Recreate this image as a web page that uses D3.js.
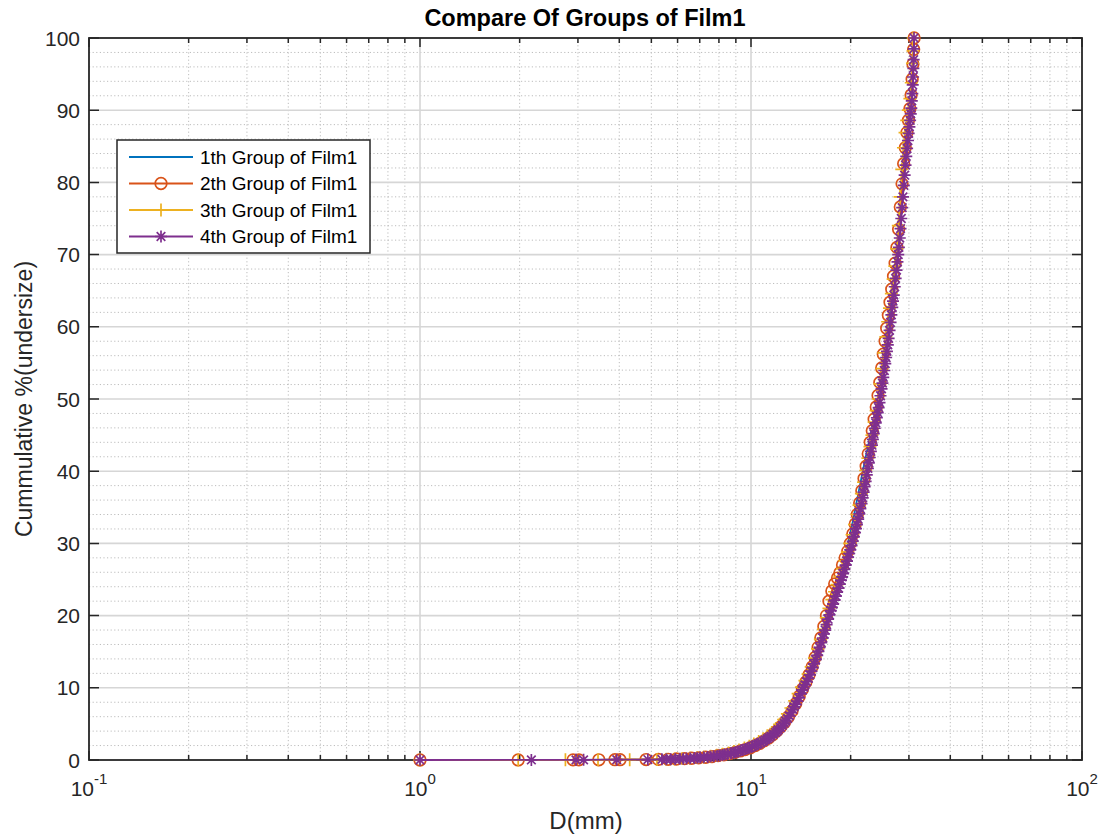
<!DOCTYPE html>
<html>
<head>
<meta charset="utf-8">
<script src="https://cdn.jsdelivr.net/npm/d3@7"></script>
<style>
  body { margin: 0; background: #fff; }
  svg { display: block; font-family: "Liberation Sans", Arial, sans-serif; }
</style>
</head>
<body>
<svg id="chart" width="1102" height="834"></svg>
<script>
// cumulative % (undersize) vs D(mm)
const d1 = [1.0, 2.05, 2.9, 3.9, 4.6, 5.3, 5.9, 6.5, 7.1, 7.7, 8.3, 8.9, 9.5, 10.1, 10.7, 11.3, 11.9, 12.5, 13.1, 13.7, 14.3, 14.9, 15.5, 16.1, 16.7, 17.3, 17.9, 18.5, 19.1, 19.7, 20.3, 20.9, 21.5, 22.1, 22.7, 23.3, 23.9, 24.5, 25.1, 25.7, 26.3, 26.9, 27.5, 28.1, 28.7, 29.3, 29.9, 30.4, 30.8, 31.0];
const p1 = [0, 0.01, 0.02, 0.04, 0.05, 0.09, 0.14, 0.22, 0.36, 0.56, 0.8, 1.1, 1.5, 2.0, 2.6, 3.4, 4.3, 5.4, 6.8, 8.4, 10.2, 11.9, 14.0, 16.4, 18.9, 21.3, 23.5, 25.6, 27.7, 30.2, 33.0, 36.0, 38.8, 41.5, 44.0, 46.3, 48.8, 51.3, 54.0, 57.2, 61.0, 65.0, 69.3, 74.5, 80.5, 85.0, 88.8, 92.5, 96.5, 100];

const d2 = [1.0, 1.98, 2.9, 3.02, 3.47, 3.88, 4.02, 4.82, 5.25, 5.62, 5.95, 6.3, 6.62, 6.95, 7.3, 7.62, 7.95, 8.28, 8.62, 8.95, 9.28, 9.6, 9.95, 10.3, 10.62, 10.95, 11.3, 11.62, 11.95, 12.3, 12.62, 12.98, 13.3, 13.65, 13.98, 14.3, 14.65, 14.98, 15.3, 15.62, 15.95, 16.25, 16.6, 16.9, 17.2, 17.55, 17.9, 18.25, 18.55, 18.9, 19.25, 19.6, 19.95, 20.3, 20.65, 20.95, 21.3, 21.62, 21.95, 22.28, 22.6, 22.92, 23.25, 23.55, 23.9, 24.2, 24.5, 24.82, 25.1, 25.42, 25.7, 26.0, 26.3, 26.62, 26.95, 27.25, 27.6, 27.92, 28.25, 28.6, 28.92, 29.25, 29.58, 29.9, 30.2, 30.45, 30.68, 30.85, 31.0, 31.1];
const p2 = [0, 0.01, 0.02, 0.02, 0.03, 0.04, 0.04, 0.06, 0.08, 0.1, 0.14, 0.19, 0.24, 0.3, 0.38, 0.48, 0.6, 0.72, 0.88, 1.05, 1.25, 1.45, 1.7, 2.0, 2.3, 2.65, 3.05, 3.5, 4.0, 4.6, 5.2, 6.0, 6.8, 7.8, 8.8, 9.8, 10.8, 11.8, 12.9, 14.2, 15.6, 16.9, 18.5, 20.0, 22.0, 23.4, 24.4, 25.2, 25.9, 27.0, 28.0, 28.9, 30.0, 31.3, 32.7, 34.0, 35.6, 37.3, 39.0, 40.7, 42.4, 44.0, 45.6, 47.2, 48.9, 50.5, 52.3, 54.3, 56.2, 58.0, 59.8, 61.6, 63.4, 65.2, 67.0, 68.8, 71.0, 73.5, 76.6, 79.8, 82.6, 84.8, 86.9, 88.6, 90.2, 92.1, 94.3, 96.4, 98.4, 100];

const d3v = [1.0, 1.98, 2.75, 3.45, 4.3, 5.2, 5.55, 5.88, 6.2, 6.55, 6.88, 7.2, 7.55, 7.88, 8.2, 8.55, 8.88, 9.2, 9.55, 9.88, 10.2, 10.55, 10.88, 11.2, 11.55, 11.88, 12.2, 12.55, 12.88, 13.2, 13.55, 13.88, 14.2, 14.55, 14.88, 15.2, 15.55, 15.88, 16.2, 16.55, 16.88, 17.2, 17.55, 17.88, 18.2, 18.55, 18.88, 19.2, 19.55, 19.88, 20.2, 20.55, 20.88, 21.2, 21.55, 21.88, 22.2, 22.55, 22.88, 23.2, 23.55, 23.88, 24.2, 24.55, 24.88, 25.2, 25.55, 25.88, 26.2, 26.55, 26.88, 27.2, 27.55, 27.88, 28.2, 28.55, 28.88, 29.2, 29.55, 29.88, 30.2, 30.5, 30.75, 30.85, 30.92];
const p3 = [0, 0.01, 0.02, 0.03, 0.05, 0.08, 0.11, 0.15, 0.2, 0.26, 0.33, 0.42, 0.53, 0.65, 0.8, 0.98, 1.18, 1.4, 1.65, 1.9, 2.2, 2.55, 2.95, 3.35, 3.8, 4.35, 4.95, 5.6, 6.4, 7.2, 8.2, 9.2, 10.1, 11.0, 11.9, 12.9, 14.1, 15.4, 16.7, 18.1, 19.7, 21.0, 22.2, 23.3, 24.3, 25.4, 26.5, 27.6, 28.8, 30.0, 31.2, 32.6, 34.0, 35.3, 36.9, 38.5, 40.1, 41.8, 43.4, 45.0, 46.8, 48.4, 50.0, 52.1, 54.2, 56.4, 58.6, 60.7, 62.6, 64.6, 66.6, 68.4, 70.8, 74.0, 78.0, 81.8, 84.8, 86.9, 88.6, 90.0, 91.6, 93.8, 96.5, 98.2, 100];

const d4 = [1.0, 2.17, 2.96, 3.12, 3.93, 4.88, 5.38, 5.55, 5.72, 5.9, 6.1, 6.24, 6.38, 6.55, 6.75, 6.88, 7.02, 7.2, 7.4, 7.55, 7.71, 7.9, 8.05, 8.2, 8.33, 8.5, 8.7, 8.85, 8.98, 9.15, 9.3, 9.45, 9.62, 9.78, 9.9, 10.08, 10.25, 10.4, 10.52, 10.7, 10.9, 11.05, 11.2, 11.35, 11.48, 11.68, 11.85, 11.98, 12.1, 12.28, 12.45, 12.6, 12.72, 12.9, 13.05, 13.22, 13.38, 13.5, 13.62, 13.8, 13.95, 14.12, 14.3, 14.42, 14.55, 14.72, 14.9, 15.05, 15.22, 15.35, 15.5, 15.68, 15.85, 15.98, 16.12, 16.3, 16.48, 16.6, 16.75, 16.92, 17.1, 17.25, 17.42, 17.55, 17.7, 17.88, 18.05, 18.2, 18.38, 18.55, 18.7, 18.85, 18.98, 19.15, 19.32, 19.5, 19.65, 19.8, 19.95, 20.12, 20.3, 20.45, 20.62, 20.75, 20.9, 21.08, 21.25, 21.4, 21.58, 21.75, 21.9, 22.05, 22.2, 22.38, 22.55, 22.7, 22.85, 23.02, 23.2, 23.35, 23.5, 23.65, 23.82, 24.0, 24.15, 24.3, 24.45, 24.62, 24.8, 24.95, 25.1, 25.28, 25.45, 25.6, 25.75, 25.9, 26.05, 26.22, 26.4, 26.55, 26.72, 26.85, 27.0, 27.18, 27.35, 27.52, 27.7, 27.85, 27.98, 28.15, 28.3, 28.45, 28.62, 28.78, 28.95, 29.12, 29.3, 29.45, 29.62, 29.8, 29.95, 30.1, 30.25, 30.38, 30.5, 30.6, 30.72, 30.8, 30.88, 30.95, 31.0, 31.05, 31.08];
const p4 = [0, 0.01, 0.02, 0.02, 0.04, 0.06, 0.09, 0.1, 0.11, 0.13, 0.16, 0.18, 0.2, 0.23, 0.27, 0.3, 0.33, 0.38, 0.43, 0.47, 0.52, 0.58, 0.64, 0.7, 0.75, 0.83, 0.92, 1.0, 1.08, 1.19, 1.3, 1.4, 1.52, 1.63, 1.72, 1.86, 2.0, 2.13, 2.25, 2.42, 2.6, 2.78, 2.95, 3.12, 3.3, 3.55, 3.8, 4.0, 4.2, 4.5, 4.8, 5.1, 5.4, 5.75, 6.1, 6.55, 7.0, 7.35, 7.7, 8.15, 8.6, 9.15, 9.7, 10.05, 10.4, 10.85, 11.3, 11.8, 12.3, 12.8, 13.3, 13.9, 14.5, 15.05, 15.6, 16.25, 16.9, 17.45, 18.0, 18.75, 19.5, 20.1, 20.7, 21.15, 21.6, 22.15, 22.7, 23.25, 23.8, 24.35, 24.9, 25.35, 25.8, 26.4, 27.0, 27.55, 28.1, 28.6, 29.1, 29.7, 30.3, 30.9, 31.5, 32.05, 32.6, 33.35, 34.1, 34.8, 35.5, 36.3, 37.1, 37.85, 38.6, 39.5, 40.4, 41.15, 41.9, 42.75, 43.6, 44.4, 45.2, 45.95, 46.7, 47.4, 48.1, 48.8, 49.5, 50.45, 51.4, 52.2, 53.0, 53.95, 54.9, 55.75, 56.6, 57.5, 58.4, 59.5, 60.6, 61.65, 62.7, 63.55, 64.4, 65.55, 66.7, 67.85, 69.0, 70.0, 71.0, 72.3, 73.6, 75.0, 76.5, 78.0, 79.6, 81.0, 82.4, 83.6, 84.7, 85.8, 86.8, 87.7, 88.6, 89.5, 90.3, 91.3, 92.3, 93.5, 94.6, 95.8, 97.0, 98.5, 100];

const seriesNames = ["1th Group of Film1", "2th Group of Film1", "3th Group of Film1", "4th Group of Film1"];
const seriesColors = ["#0072BD", "#D95319", "#EDB120", "#7E2F8E"];
const seriesMarkers = ["none", "circle", "plus", "star"];
const xTicks = [0.1, 1, 10, 100];
const xTickExp = ["-1", "0", "1", "2"];
const yTicks = [0, 10, 20, 30, 40, 50, 60, 70, 80, 90, 100];

const series = [[d1, p1], [d2, p2], [d3v, p3], [d4, p4]].map(([d, p], i) => ({
  name: seriesNames[i], color: seriesColors[i], marker: seriesMarkers[i],
  values: d.map((v, j) => ({d: v, p: p[j]}))
}));

const svg = d3.select("#chart");
const pl = 89, pt = 38, pr = 1082, pb = 760;
const x = d3.scaleLog().domain([0.1, 100]).range([pl, pr]);
const y = d3.scaleLinear().domain([0, 100]).range([pb, pt]);
const ink = "#262626";

// minor grid
const xMinor = [];
[0.1, 1, 10].forEach(dec => { for (let k = 2; k <= 9; k++) xMinor.push(dec * k); });
const yMinor = d3.range(0, 101, 2).filter(v => v % 10 !== 0);

const grid = svg.append("g");
grid.selectAll(".xm").data(xMinor).join("line")
    .attr("x1", d => x(d)).attr("x2", d => x(d)).attr("y1", pt).attr("y2", pb)
    .attr("stroke", "#bdbdbd").attr("stroke-dasharray", "1.2,2.4");
grid.selectAll(".ym").data(yMinor).join("line")
    .attr("x1", pl).attr("x2", pr).attr("y1", d => y(d)).attr("y2", d => y(d))
    .attr("stroke", "#bdbdbd").attr("stroke-dasharray", "1.2,2.4");
grid.selectAll(".xM").data([1, 10]).join("line")
    .attr("x1", d => x(d)).attr("x2", d => x(d)).attr("y1", pt).attr("y2", pb)
    .attr("stroke", "#d6d6d6").attr("stroke-width", 1.6);
grid.selectAll(".yM").data(yTicks.slice(1, -1)).join("line")
    .attr("x1", pl).attr("x2", pr).attr("y1", d => y(d)).attr("y2", d => y(d))
    .attr("stroke", "#d6d6d6").attr("stroke-width", 1.6);

// box + ticks
const ax = svg.append("g").attr("stroke", ink).attr("stroke-width", 1.5);
ax.append("rect").attr("x", pl).attr("y", pt).attr("width", pr - pl).attr("height", pb - pt)
    .attr("fill", "none").attr("stroke-width", 1.8);
const xAll = xTicks.map(v => ({v, len: 9})).concat(xMinor.map(v => ({v, len: 5})));
ax.selectAll(".xt").data(xAll).join("path")
    .attr("d", t => `M${x(t.v)},${pb}v${-t.len}M${x(t.v)},${pt}v${t.len}`);
ax.selectAll(".yt").data(yTicks).join("path")
    .attr("d", v => `M${pl},${y(v)}h10M${pr},${y(v)}h-10`);

// tick labels
svg.append("g").selectAll("text").data(yTicks).join("text")
    .attr("x", 80).attr("y", d => y(d)).attr("dy", "0.36em")
    .attr("text-anchor", "end").attr("font-size", 21).attr("fill", ink)
    .text(d => d);
svg.append("g").selectAll("text").data(xTicks).join("text")
    .attr("x", d => x(d)).attr("y", 796).attr("text-anchor", "middle")
    .attr("font-size", 21).attr("fill", ink)
    .call(t => t.append("tspan").text("10"))
    .call(t => t.append("tspan").attr("font-size", 15).attr("dy", -12).text((d, i) => xTickExp[i]));

// titles
svg.append("text").attr("x", 585).attr("y", 26).attr("text-anchor", "middle")
    .attr("font-size", 23.5).attr("font-weight", "bold").attr("fill", "#000")
    .text("Compare Of Groups of Film1");
svg.append("text").attr("x", 586).attr("y", 829).attr("text-anchor", "middle")
    .attr("font-size", 24).attr("fill", ink).text("D(mm)");
svg.append("text").attr("transform", `translate(32,${(pt + pb) / 2}) rotate(-90)`)
    .attr("text-anchor", "middle").attr("font-size", 23).attr("fill", ink)
    .text("Cummulative %(undersize)");

// markers
function drawMarker(sel, type, color) {
  if (type === "circle") {
    sel.append("circle").attr("r", 5.8).attr("fill", "none").attr("stroke", color).attr("stroke-width", 1.7);
  } else if (type === "plus") {
    sel.append("path").attr("d", "M-6.5,0H6.5M0,-6.5V6.5").attr("stroke", color).attr("stroke-width", 1.7);
  } else if (type === "star") {
    sel.append("path").attr("d", "M-6,0H6M0,-6V6M-4.3,-4.3L4.3,4.3M-4.3,4.3L4.3,-4.3").attr("stroke", color).attr("stroke-width", 1.7);
  }
}

const line = d3.line().x(d => x(d.d)).y(d => y(d.p));
const plot = svg.append("g");
series.forEach(s => {
  const g = plot.append("g");
  g.append("path").datum(s.values).attr("d", line)
      .attr("fill", "none").attr("stroke", s.color).attr("stroke-width", 1.8);
  if (s.marker !== "none") {
    g.selectAll("g").data(s.values).join("g")
        .attr("transform", d => `translate(${x(d.d)},${y(d.p)})`)
        .each(function () { drawMarker(d3.select(this), s.marker, s.color); });
  }
});

// legend
const lg = svg.append("g");
lg.append("rect").attr("x", 117).attr("y", 140).attr("width", 253).attr("height", 113)
    .attr("fill", "#fff").attr("stroke", ink).attr("stroke-width", 1.5);
series.forEach((s, i) => {
  const yy = 157 + i * 26.5;
  lg.append("line").attr("x1", 129).attr("x2", 193).attr("y1", yy).attr("y2", yy)
      .attr("stroke", s.color).attr("stroke-width", 1.8);
  drawMarker(lg.append("g").attr("transform", `translate(161,${yy})`), s.marker, s.color);
  lg.append("text").attr("x", 200).attr("y", yy).attr("dy", "0.36em")
      .attr("font-size", 19).attr("fill", "#000").text(s.name);
});
</script>
</body>
</html>
